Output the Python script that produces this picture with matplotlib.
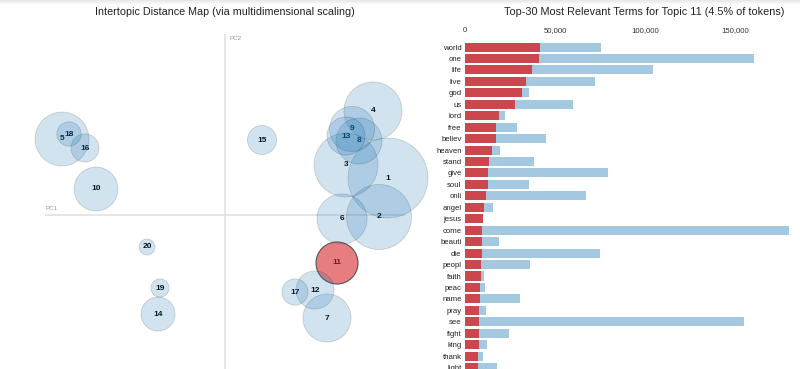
import matplotlib
matplotlib.use('Agg')
import matplotlib.pyplot as plt
from matplotlib.patches import Circle
from matplotlib.ticker import FuncFormatter
import numpy as np

plt.rcParams['font.family'] = ['Liberation Sans', 'DejaVu Sans']

# ---- intertopic map data (PC coordinates, topic share in %) ----
topic_ids = list(range(1, 21))
pc1 = [0.326, 0.308, 0.242, 0.296, -0.326, 0.234, 0.204, 0.268, 0.254, -0.258,
       0.224, 0.180, 0.242, -0.134, 0.074, -0.280, 0.140, -0.312, -0.130, -0.156]
pc2 = [0.074, -0.004, 0.100, 0.208, 0.152, -0.008, -0.206, 0.148, 0.172, 0.052,
       -0.096, -0.150, 0.158, -0.198, 0.150, 0.134, -0.154, 0.162, -0.146, -0.064]
topic_share = [16.3, 10.8, 10.45, 8.6, 7.4, 6.4, 5.9, 5.4, 5.2, 4.9,
               4.5, 3.7, 3.7, 2.95, 2.15, 2.0, 1.75, 1.5, 0.85, 0.65]
selected_topic = 11

# ---- top terms for topic 11 (counts) ----
terms = ['world', 'one', 'life', 'live', 'god', 'us', 'lord', 'free', 'believ', 'heaven',
         'stand', 'give', 'soul', 'onli', 'angel', 'jesus', 'come', 'beauti', 'die', 'peopl',
         'faith', 'peac', 'name', 'pray', 'see', 'fight', 'king', 'thank', 'light']
topic_freq = [41900, 41300, 37400, 33900, 31500, 28000, 19100, 17400, 17200, 15000,
              13300, 12600, 12600, 11500, 10600, 10000, 9600, 9600, 9300, 9100,
              8900, 8500, 8300, 7800, 7800, 7800, 7600, 7000, 7000]
total_freq = [75400, 160700, 104300, 72000, 35400, 60000, 22000, 29100, 44800, 19600,
              38300, 79600, 35700, 67200, 15400, 10000, 180200, 18900, 75000, 35900,
              10600, 11300, 30400, 11700, 155200, 24300, 12000, 9800, 18000]
x_ticks = [0, 50000, 100000, 150000]

W, H = 800, 369
fig = plt.figure(figsize=(W / 100, H / 100), dpi=100)
fig.patch.set_facecolor('white')

# faint shadow strip at the top
ax_top = fig.add_axes([0, 1 - 5 / H, 1, 5 / H])
ax_top.imshow(np.linspace(0.90, 1.0, 20).reshape(-1, 1), aspect='auto', cmap='gray',
              vmin=0, vmax=1, extent=(0, 1, 0, 1))
ax_top.axis('off')

# ---- left: intertopic distance map ----
ax1 = fig.add_axes([0, 0, 450 / W, 1])
ax1.set_xlim(-0.45, 0.45)
ax1.set_ylim(-0.308, 0.43)
ax1.axis('off')

ax1.plot([0, 0], [-0.308, 0.36], color='#e3e3e3', lw=1.3, zorder=0)
ax1.plot([-0.358, 0.358], [0, 0], color='#e3e3e3', lw=1.3, zorder=0)
ax1.text(0.008, 0.357, 'PC2', fontsize=4.5, color='#999999', ha='left', va='top')
ax1.text(-0.358, 0.007, 'PC1', fontsize=4.5, color='#999999', ha='left', va='bottom')

for t, x, y, s in zip(topic_ids, pc1, pc2, topic_share):
    r = 0.042 * np.sqrt(s / 4.5)
    if t == selected_topic:
        c = Circle((x, y), r, facecolor=(214 / 255, 39 / 255, 40 / 255, 0.6),
                   edgecolor='#555555', lw=0.8, zorder=2)
    else:
        c = Circle((x, y), r, facecolor=(31 / 255, 119 / 255, 180 / 255, 0.2),
                   edgecolor=(0, 0, 0, 0.16), lw=0.6, zorder=2)
    ax1.add_patch(c)
    ax1.text(x, y, str(t), fontsize=6, fontweight='bold', color='black',
             ha='center', va='center', zorder=1)

fig.text(225 / W, 1 - 12 / H, 'Intertopic Distance Map (via multidimensional scaling)',
         fontsize=7.75, color='#222222', ha='center', va='center')

# ---- right: bar chart ----
y = np.arange(len(terms))
x_max = max(total_freq)
ax2 = fig.add_axes([465 / W, 0, x_max * 0.0018 / W, (H - 41.3) / H])
ax2.barh(y, total_freq, height=0.79, color='#1f77b4', alpha=0.4, lw=0)
ax2.barh(y, topic_freq, height=0.79, color='#d62728', alpha=0.8, lw=0)
ax2.set_xlim(0, x_max)
ax2.set_ylim((H - 47) / 11.45, -0.5)
ax2.set_yticks(y)
ax2.set_yticklabels(terms, fontsize=5.6, color='#222222')
ax2.set_xticks(x_ticks)
ax2.xaxis.set_major_formatter(FuncFormatter(lambda v, p: f'{int(v):,}'))
ax2.xaxis.tick_top()
ax2.tick_params(axis='x', length=0, pad=5, labelsize=5.6, labelcolor='#333333')
ax2.tick_params(axis='y', length=0, pad=2.5)
for sp in ax2.spines.values():
    sp.set_visible(False)

fig.text(644 / W, 1 - 12 / H, 'Top-30 Most Relevant Terms for Topic 11 (4.5% of tokens)',
         fontsize=7.8, color='#222222', ha='center', va='center')

fig.savefig('out.png', dpi=100, facecolor='white')
